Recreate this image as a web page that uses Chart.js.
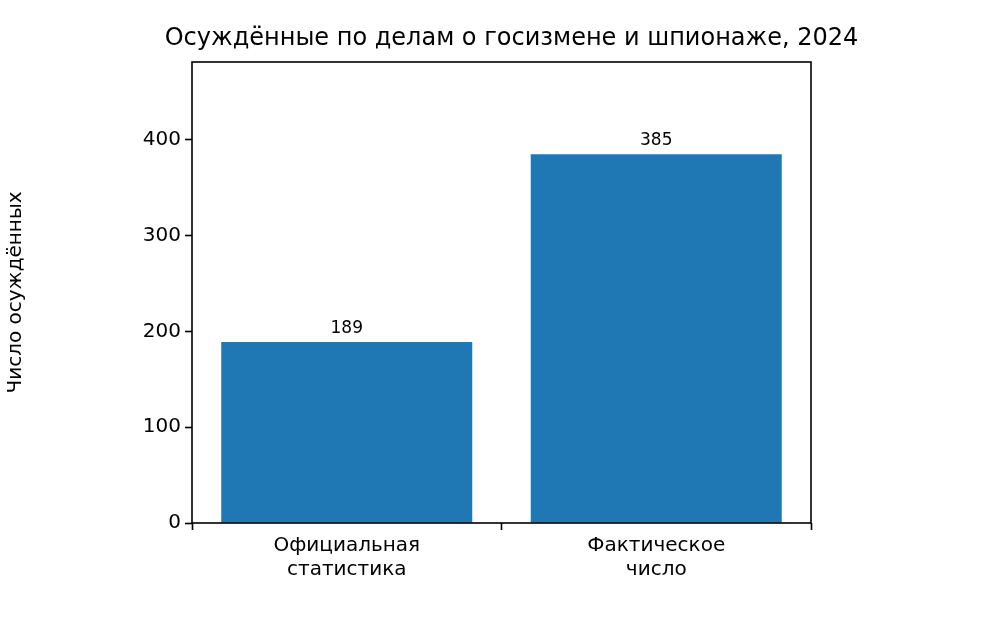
<!DOCTYPE html>
<html><head><meta charset="utf-8">
<script src="https://cdn.jsdelivr.net/npm/chart.js@4"></script>
<style>html,body{margin:0;padding:0;background:#fff}#w{width:1004px;height:624px}</style>
</head><body><div id="w"><canvas id="c"></canvas></div>
<script>
const categories = [["Официальная","статистика"],["Фактическое","число"]];
const values = [189, 385];
const yTicks = [0,100,200,300,400];
const titleText = "Осуждённые по делам о госизмене и шпионаже, 2024";
const yTitle = "Число осуждённых";
const F = "'DejaVu Sans', sans-serif";
const deco = {
  id:'deco',
  afterDatasetsDraw(ch){
    const {ctx, chartArea:a} = ch;
    ctx.save();
    ctx.strokeStyle='#000'; ctx.lineWidth=1.6;
    ctx.strokeRect(a.left, a.top, a.right-a.left, a.bottom-a.top);
    ctx.fillStyle='#000'; ctx.textAlign='center';
    ctx.font = "24px "+F; ctx.textBaseline='alphabetic';
    ctx.fillText(titleText, (a.left+a.right)/2+10, 45);
    ctx.font = "17px "+F;
    const meta = ch.getDatasetMeta(0);
    meta.data.forEach((b,i)=>{ ctx.fillText(String(values[i]), b.x, b.y-9); });
    ctx.restore();
  }
};
new Chart(document.getElementById('c'), {
  type:'bar',
  data:{labels:categories, datasets:[{data:values, backgroundColor:'#1f77b4', barPercentage:0.811, categoryPercentage:1}]},
  options:{
    responsive:true, maintainAspectRatio:false, animation:false,
    layout:{padding:{top:62,right:193,left:0,bottom:0}},
    plugins:{legend:{display:false}, tooltip:{enabled:false}},
    scales:{
      x:{offset:true, grid:{display:true, drawOnChartArea:false, color:'#000', tickLength:7, tickWidth:1.6},
         border:{display:false},
         ticks:{color:'#000', font:{family:F, size:20}, padding:4},
         afterFit(s){ s.height = 101; }},
      y:{min:0, max:481.25, grid:{drawOnChartArea:false, color:'#000', tickLength:7, tickWidth:1.6},
         border:{display:false},
         afterBuildTicks(s){ s.ticks = yTicks.map(v=>({value:v})); },
         ticks:{color:'#000', font:{family:F, size:20}, padding:4},
         title:{display:true, text:yTitle, color:'#000', font:{family:F, size:20}, padding:{bottom:6}},
         afterFit(s){ s.width = 192; }}
    }
  },
  plugins:[deco]
});
</script></body></html>
